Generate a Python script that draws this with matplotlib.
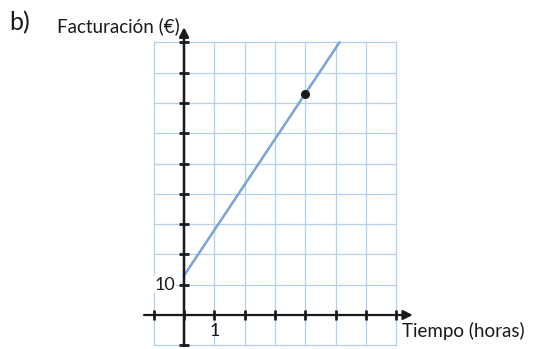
import numpy as np
import matplotlib.pyplot as plt

plt.rcParams['font.family'] = ['Lato', 'DejaVu Sans']

# data
horas = [0, 5.13]
intercept = 13
pendiente = 15
punto_x = [4]
punto_y = [73]
x_ticks = [-1, 0, 1, 2, 3, 4, 5, 6, 7]
y_ticks = [-10, 10, 20, 30, 40, 50, 60, 70, 80, 90]
grid_x = np.arange(-1, 8)
grid_y = np.arange(-10, 100, 10)

fig = plt.figure(figsize=(5.33, 3.49), dpi=100)
ax = fig.add_axes([0, 0, 1, 1])
px = 30.3
ax.set_xlim(-184 / px, (533 - 184) / px)
ax.set_ylim(-34 / px * 10, 315 / px * 10)
ax.axis('off')

grid_col = '#b4d0ec'
for gx in grid_x:
    ax.plot([gx, gx], [-10, 90], color=grid_col, lw=0.9, zorder=1)
for gy in grid_y:
    ax.plot([-1, 7], [gy, gy], color=grid_col, lw=0.9, zorder=1)

# line of the function
xs = np.array(horas)
ax.plot(xs, intercept + pendiente * xs, color='#78a4d6', lw=1.8, zorder=3)

# axes with arrows
ax.annotate('', xy=(7.55, 0), xytext=(-1.32, 0),
            arrowprops=dict(arrowstyle='-|>', color='#1a1a1a', lw=1.6,
                            mutation_scale=14, shrinkA=0, shrinkB=0), zorder=4)
ax.annotate('', xy=(0, 95), xytext=(0, -10.2),
            arrowprops=dict(arrowstyle='-|>', color='#1a1a1a', lw=1.8,
                            mutation_scale=14, shrinkA=0, shrinkB=0), zorder=4)

ax.plot(x_ticks, [0] * len(x_ticks), ls='none', marker='|', ms=7, mew=2,
        color='#1a1a1a', zorder=5)
ax.plot([0] * len(y_ticks), y_ticks, ls='none', marker='_', ms=7, mew=2,
        color='#1a1a1a', zorder=5)

ax.plot(punto_x, punto_y, 'o', color='#1a1a1a', ms=5.5, zorder=6)

ax.text(-0.3, 10, '10', fontsize=13, ha='right', va='center', color='#1a1a1a',
        bbox=dict(facecolor='white', edgecolor='none', pad=0.5), zorder=2)
ax.text(1, -5.3, '1', fontsize=13, ha='center', va='center', color='#1a1a1a')
ax.text(7.2, -5.3, 'Tiempo (horas)', fontsize=13.5, ha='left', va='center',
        color='#1a1a1a')
ax.text(-0.15, 95.3, 'Facturación (€)', fontsize=13.5, ha='right', va='center',
        color='#1a1a1a')
ax.text(9 / px - 184 / px, 96.5, 'b)', fontsize=18, ha='left', va='center',
        color='#1a1a1a')

fig.savefig('out.png', dpi=100)
